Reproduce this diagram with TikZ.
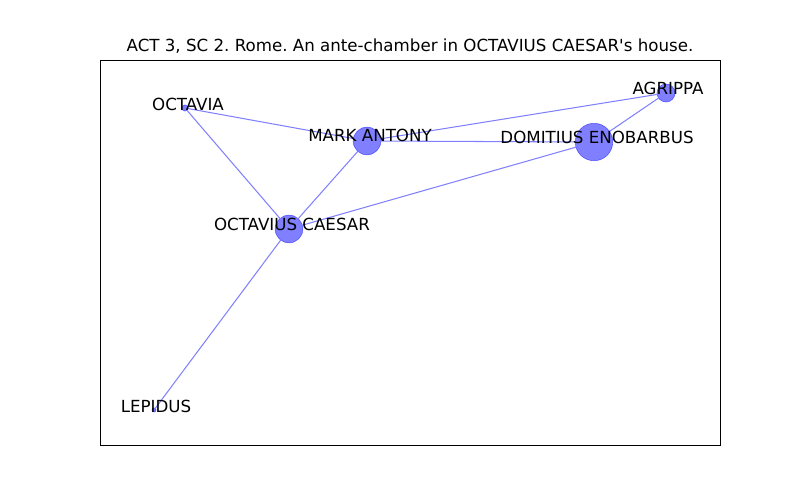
\documentclass[tikz,border=0pt]{standalone}
\usepackage{fontspec}
\setmainfont{DejaVu Sans}[Ligatures=TeXOff]
\frenchspacing
\begin{document}
\begin{tikzpicture}[x=0.72pt,y=-0.72pt,
  vert/.style={circle,inner sep=0pt,fill=blue,fill opacity=0.5,draw=blue,draw opacity=0.5},
  edge/.style={blue!50,line width=0.75pt},
  lbl/.style={font=\fontsize{12}{14}\selectfont,inner sep=0pt,text=black}]
\useasboundingbox (0,0) rectangle (800,500);
\draw[line width=0.6pt] (100,60) rectangle (720,445);
\node[lbl] (title) at (410,46) {ACT 3, SC 2. Rome. An ante-chamber in OCTAVIUS CAESAR's house.};
\node[vert,minimum size=4.5pt] (oa) at (185,108) {};
\node[vert,minimum size=20pt] (ma) at (367,141) {};
\node[vert,minimum size=13pt] (ag) at (666,93) {};
\node[vert,minimum size=27pt] (de) at (594,142) {};
\node[vert,minimum size=20pt] (oc) at (289,229) {};
\node[vert,minimum size=3pt] (le) at (154,410) {};
\draw[edge] (oa.center) -- (ma.center);
\draw[edge] (oa.center) -- (oc.center);
\draw[edge] (ma.center) -- (ag.center);
\draw[edge] (ma.center) -- (de.center);
\draw[edge] (ma.center) -- (oc.center);
\draw[edge] (oc.center) -- (de.center);
\draw[edge] (de.center) -- (ag.center);
\draw[edge] (oc.center) -- (le.center);
\node[lbl] (loa) at (188,104) {OCTAVIA};
\node[lbl] (lma) at (370,135) {MARK ANTONY};
\node[lbl] (lag) at (668,88) {AGRIPPA};
\node[lbl] (lde) at (597,137) {DOMITIUS ENOBARBUS};
\node[lbl] (loc) at (292,224) {OCTAVIUS CAESAR};
\node[lbl] (lle) at (156,406) {LEPIDUS};
\end{tikzpicture}
\end{document}
